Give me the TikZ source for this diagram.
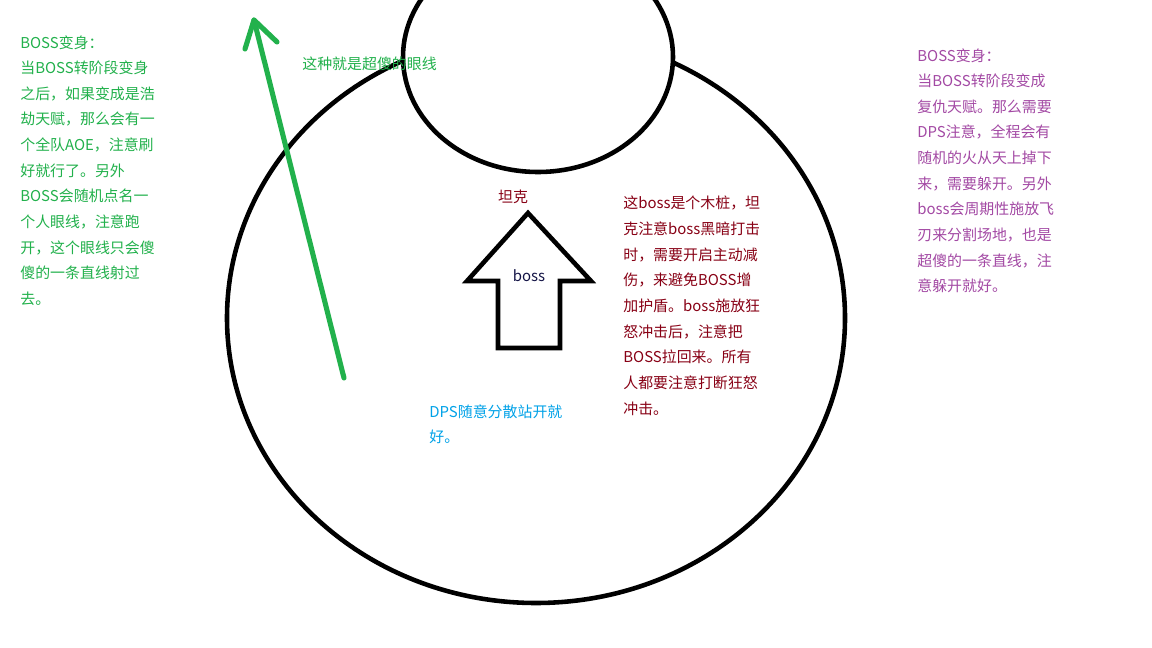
\documentclass[tikz,border=0pt]{standalone}
\usepackage{fontspec}
\setmainfont{Noto Sans CJK SC}
\definecolor{paintgreen}{RGB}{34,177,76}
\definecolor{paintred}{RGB}{136,0,21}
\definecolor{paintblue}{RGB}{0,162,232}
\definecolor{paintpurple}{RGB}{163,73,164}
\definecolor{paintnavy}{RGB}{20,20,70}
\tikzset{
  note/.style={anchor=north west, inner sep=0pt, align=left, font=\fontsize{8.5}{14.6}\selectfont},
  label/.style={inner sep=0pt, font=\fontsize{8.5}{14.6}\selectfont},
  ring/.style={line width=2.6pt},
}

\begin{document}
\begin{tikzpicture}[x=0.02cm, y=-0.02cm]
        \clip (0, 0) rectangle (1152, 648);
        \fill[white] (0, 0) rectangle (1152, 648);
        % rings
        \draw[ring] (536, 318) ellipse (309 and 285);
        \fill[white] (538, 57) ellipse (135 and 115);
        \draw[ring] (538, 57) ellipse (135 and 115);
        % boss arrow
        \draw[ring, line join=miter] (498, 348) -- (498, 281) -- (467, 281) -- (528, 213)
          -- (591, 281) -- (560, 281) -- (560, 348) -- cycle;
        \node[label, text=paintnavy] (boss) at (529, 276) {boss};
        \node[label, text=paintred] (tank) at (513, 197) {坦克};
        % line of sight
        \coordinate (losstart) at (344, 378);
        \coordinate (lostip) at (254, 20);
        \draw[paintgreen, line width=2.9pt, line cap=round] (losstart) -- (lostip);
        \draw[paintgreen, line width=2.9pt, line cap=round, line join=round]
          (245, 49) -- (lostip) -- (277, 42);
        \node[label, text=paintgreen, anchor=west] (lostext) at (302, 64) {这种就是超傻的眼线};
        % notes
        \node[note, text=paintgreen] (leftnote) at (20, 35) {BOSS变身：\\当BOSS转阶段变身\\之后，如果变成是浩\\劫天赋，那么会有一\\个全队AOE，注意刷\\好就行了。另外\\BOSS会随机点名一\\个人眼线，注意跑\\开，这个眼线只会傻\\傻的一条直线射过\\去。};
        \node[note, text=paintpurple] (rightnote) at (917, 48) {BOSS变身：\\当BOSS转阶段变成\\复仇天赋。那么需要\\DPS注意，全程会有\\随机的火从天上掉下\\来，需要躲开。另外\\boss会周期性施放飞\\刃来分割场地，也是\\超傻的一条直线，注\\意躲开就好。};
        \node[note, text=paintred] (tanknote) at (623, 196) {这boss是个木桩，坦\\克注意boss黑暗打击\\时，需要开启主动减\\伤，来避免BOSS增\\加护盾。boss施放狂\\怒冲击后，注意把\\BOSS拉回来。所有\\人都要注意打断狂怒\\冲击。};
        \node[note, text=paintblue] (dpsnote) at (429, 404) {DPS随意分散站开就\\好。};
      \end{tikzpicture}
\end{document}
